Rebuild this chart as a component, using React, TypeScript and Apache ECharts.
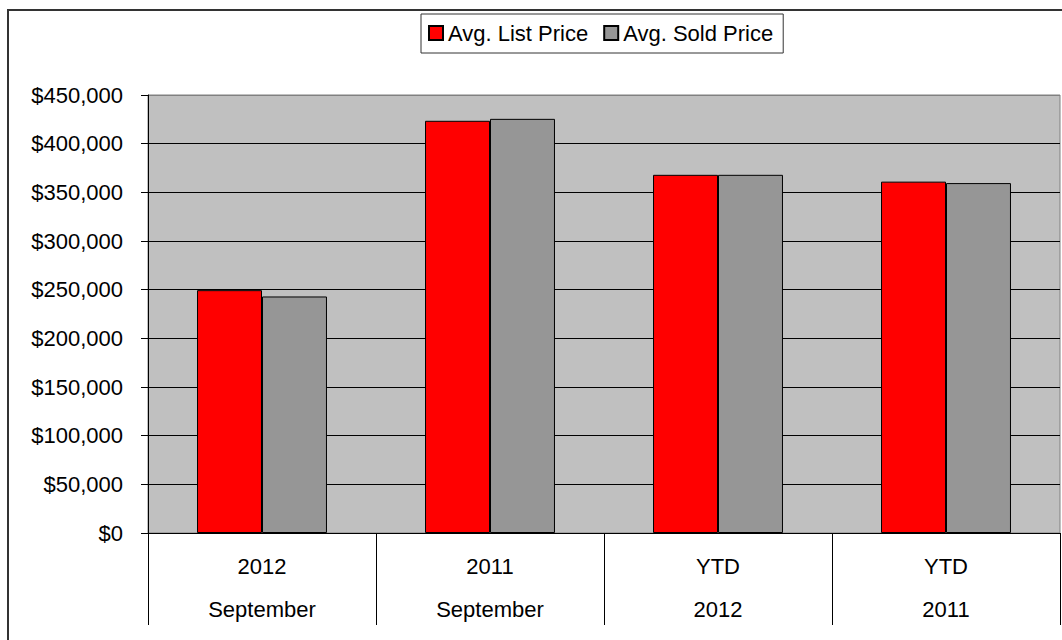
import React, { useEffect, useRef } from "react";
import * as echarts from "echarts";

const categories = ["2012\nSeptember", "2011\nSeptember", "YTD\n2012", "YTD\n2011"];
const seriesNames = ["Avg. List Price", "Avg. Sold Price"];
const listPrice = [249500, 423500, 368000, 361000];
const soldPrice = [243000, 425500, 368000, 359500];
const yMin = 0;
const yMax = 450000;
const yInterval = 50000;

const FONT = '"Liberation Sans", Arial, sans-serif';

export default function App() {
  const ref = useRef<HTMLDivElement>(null);
  useEffect(() => {
    if (!ref.current) return;
    const chart = echarts.init(ref.current, undefined, { renderer: "svg" });
    const splitColors: string[] = [];
    for (let v = yMin; v <= yMax; v += yInterval) splitColors.push(v === yMax ? "#808080" : "#000000");
    chart.setOption({
      animation: false,
      backgroundColor: "#ffffff",
      textStyle: { fontFamily: FONT, color: "#000" },
      graphic: [
        {
          type: "rect",
          shape: { x: 8, y: 10, width: 1100, height: 700 },
          style: { fill: "none", stroke: "#333333", lineWidth: 2 },
          silent: true,
        },
      ],
      legend: {
        left: 421,
        top: 14,
        orient: "horizontal",
        padding: [8, 10, 9, 7],
        itemGap: 15,
        itemWidth: 14,
        itemHeight: 14,
        icon: "rect",
        borderColor: "#333333",
        borderWidth: 1,
        backgroundColor: "#ffffff",
        textStyle: { fontFamily: FONT, fontSize: 22, color: "#000", lineHeight: 22 },
        data: seriesNames,
      },
      grid: {
        left: 148,
        top: 95,
        right: 2,
        bottom: 107,
        show: true,
        backgroundColor: "#C0C0C0",
        borderColor: "#808080",
        borderWidth: 1,
      },
      xAxis: {
        type: "category",
        data: categories,
        boundaryGap: true,
        axisLine: { show: true, lineStyle: { color: "#000", width: 1 } },
        axisTick: { show: true, length: 92, alignWithLabel: false, lineStyle: { color: "#000", width: 1 } },
        axisLabel: {
          margin: 12,
          fontFamily: FONT,
          fontSize: 22,
          color: "#000",
          lineHeight: 43,
          interval: 0,
        },
        splitLine: { show: false },
      },
      yAxis: {
        type: "value",
        min: yMin,
        max: yMax,
        interval: yInterval,
        axisLine: { show: true, lineStyle: { color: "#000", width: 1 } },
        axisTick: { show: true, inside: false, length: 7, lineStyle: { color: "#000" } },
        axisLabel: {
          margin: 25,
          fontFamily: FONT,
          fontSize: 22,
          color: "#000",
          formatter: (v: number) => "$" + v.toLocaleString("en-US"),
        },
        splitLine: { show: true, lineStyle: { color: splitColors, width: 1 } },
      },
      series: [
        {
          name: seriesNames[0],
          type: "bar",
          data: listPrice,
          barGap: "0%",
          barCategoryGap: "43%",
          itemStyle: { color: "#FF0000", borderColor: "#000", borderWidth: 1 },
        },
        {
          name: seriesNames[1],
          type: "bar",
          data: soldPrice,
          barGap: "0%",
          barCategoryGap: "43%",
          itemStyle: { color: "#969696", borderColor: "#000", borderWidth: 1 },
        },
      ],
    });
    return () => chart.dispose();
  }, []);
  return (
    <div
      ref={ref}
      style={{ position: "fixed", left: 0, top: 0, width: 1062, height: 640, background: "#fff" }}
    />
  );
}
